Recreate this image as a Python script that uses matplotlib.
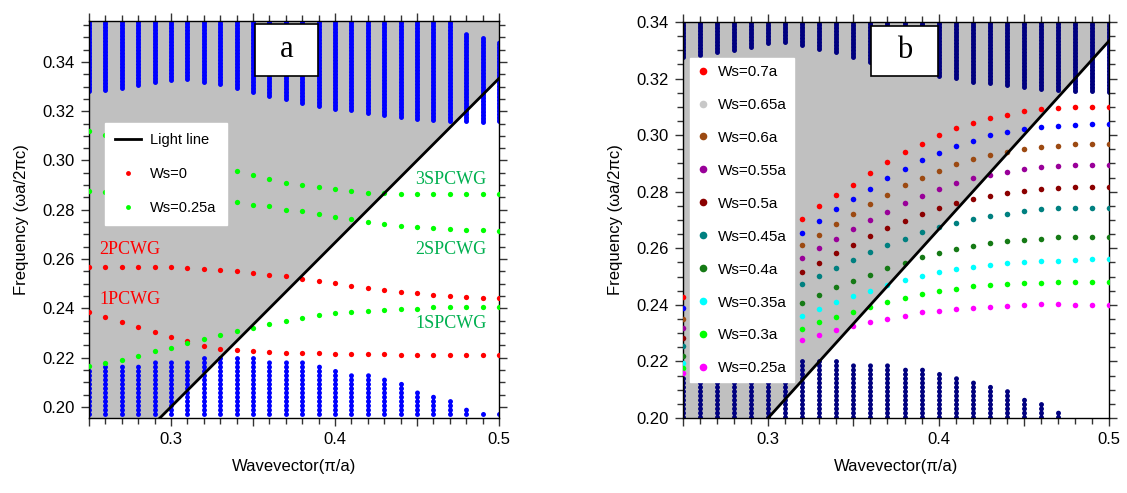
import matplotlib
matplotlib.use('Agg')
import matplotlib.pyplot as plt
import numpy as np
from matplotlib.lines import Line2D
from matplotlib.patches import Rectangle
from matplotlib.ticker import MultipleLocator, FuncFormatter, FormatStrFormatter

plt.rcParams['font.family'] = ['Liberation Sans', 'DejaVu Sans']

nan = np.nan
k = [0.25, 0.26, 0.27, 0.28, 0.29, 0.30, 0.31, 0.32, 0.33, 0.34, 0.35, 0.36, 0.37,
     0.38, 0.39, 0.40, 0.41, 0.42, 0.43, 0.44, 0.45, 0.46, 0.47, 0.48, 0.49, 0.50]

light_k = [0.25, 0.50]
light_f = [0.1667, 0.3333]

# ---- panel a: photonic bands (blue) ----
a_up_lo = [0.3282, 0.3285, 0.3295, 0.3306, 0.3317, 0.3325, 0.3329, 0.3319, 0.3309, 0.3293, 0.3278, 0.3260, 0.3249,
           0.3234, 0.3222, 0.3210, 0.3203, 0.3192, 0.3183, 0.3176, 0.3169, 0.3165, 0.3160, 0.3160, 0.3156, 0.3160]
a_up_hi = [0.357, 0.357, 0.357, 0.357, 0.357, 0.357, 0.357, 0.357, 0.357, 0.357, 0.357, 0.357, 0.357,
           0.357, 0.357, 0.357, 0.357, 0.357, 0.357, 0.357, 0.357, 0.357, 0.357, 0.3520, 0.3498, 0.3479]
a_lo_hi = [0.2157, 0.2164, 0.2175, 0.2179, 0.2186, 0.2193, 0.2196, 0.2197, 0.2200, 0.2203, 0.2199, 0.2196, 0.2192,
           0.2183, 0.2172, 0.2161, 0.2145, 0.2131, 0.2116, 0.2097, 0.2073, 0.2051, 0.2026, 0.2004, 0.1988, 0.1979]
a_lo_lo = 0.197

# Ws=0 (red)
a_red_2 = [0.2566, 0.2569, 0.2569, 0.2569, 0.2569, 0.2567, 0.2564, 0.2560, 0.2556, 0.2552, 0.2545, 0.2537, 0.2530,
           0.2519, 0.2511, 0.2503, 0.2492, 0.2484, 0.2476, 0.2468, 0.2461, 0.2453, 0.2449, 0.2446, 0.2443, 0.2442]
a_red_1 = [0.2387, 0.2364, 0.2346, 0.2323, 0.2304, 0.2284, 0.2266, 0.2249, 0.2237, 0.2230, 0.2226, 0.2222, 0.2220,
           0.2217, 0.2217, 0.2215, 0.2214, 0.2214, 0.2214, 0.2211, 0.2211, 0.2211, 0.2211, 0.2211, 0.2211, 0.2211]
# Ws=0.25a (green)
a_grn_1 = [0.2166, 0.2177, 0.2192, 0.2207, 0.2228, 0.2241, 0.2259, 0.2277, 0.2290, 0.2308, 0.2322, 0.2337, 0.2349,
           0.2361, 0.2372, 0.2380, 0.2387, 0.2391, 0.2395, 0.2399, 0.2399, 0.2404, 0.2404, 0.2404, 0.2404, 0.2404]
a_grn_2 = [0.2876, 0.2872, nan, nan, nan, nan, nan, nan, 0.2838, 0.2830, 0.2820, 0.2814, 0.2800,
           0.2793, 0.2781, 0.2769, 0.2762, 0.2750, 0.2741, 0.2735, 0.2730, 0.2724, 0.2722, 0.2719, 0.2716, 0.2713]
a_grn_3 = [0.3120, 0.3102, nan, nan, nan, nan, nan, nan, 0.2971, 0.2956, 0.2941, 0.2926, 0.2910,
           0.2899, 0.2891, 0.2883, 0.2875, 0.2870, 0.2868, 0.2862, 0.2862, 0.2862, 0.2862, 0.2862, 0.2862, 0.2862]

# ---- panel b ----
b_up_lo = [0.3275, 0.3285, 0.3293, 0.3301, 0.3313, 0.3325, 0.3329, 0.3320, 0.3305, 0.3293, 0.3275, 0.3260, 0.3249,
           0.3234, 0.3220, 0.3210, 0.3201, 0.3188, 0.3183, 0.3176, 0.3170, 0.3164, 0.3158, 0.3156, 0.3156, 0.3154]
b_up_hi = 0.341
b_lo_hi = [0.2149, 0.2164, 0.2175, 0.2179, 0.2186, 0.2193, 0.2196, 0.2200, 0.2202, 0.2200, 0.2196, 0.2194, 0.2188,
           0.2182, 0.2173, 0.2162, 0.2146, 0.2132, 0.2113, 0.2094, 0.2074, 0.2051, 0.2028, nan, nan, nan]
b_lo_lo = 0.2003

hid = [nan] * 6
b_series = {
    'Ws=0.7a': [0.2429] + hid + [0.2703, 0.2748, 0.2788, 0.2825, 0.2867, 0.2904, 0.2940, 0.2970, 0.2999, 0.3025,
                                 0.3044, 0.3062, 0.3072, 0.3084, 0.3091, 0.3095, 0.3098, 0.3100, 0.3100],
    'Ws=0.65a': [0.2390] + hid + [0.2655, 0.2696, 0.2738, 0.2774, 0.2811, 0.2848, 0.2881, 0.2911, 0.2938, 0.2963,
                                  0.2980, 0.2999, 0.3010, 0.3021, 0.3029, 0.3032, 0.3037, 0.3040, 0.3040],
    'Ws=0.6a': [0.2351] + hid + [0.2612, 0.2648, 0.2686, 0.2722, 0.2755, 0.2789, 0.2823, 0.2848, 0.2874, 0.2897,
                                 0.2914, 0.2930, 0.2939, 0.2951, 0.2958, 0.2963, 0.2968, 0.2970, 0.2969],
    'Ws=0.55a': [0.2319] + hid + [0.2566, 0.2601, 0.2634, 0.2667, 0.2700, 0.2729, 0.2760, 0.2785, 0.2811, 0.2830,
                                  0.2847, 0.2859, 0.2871, 0.2880, 0.2888, 0.2892, 0.2893, 0.2896, 0.2896],
    'Ws=0.5a': [0.2284] + hid + [0.2516, 0.2549, 0.2582, 0.2612, 0.2644, 0.2672, 0.2697, 0.2722, 0.2741, 0.2759,
                                 0.2774, 0.2785, 0.2796, 0.2803, 0.2809, 0.2814, 0.2816, 0.2818, 0.2818],
    'Ws=0.45a': [0.2255] + hid + [0.2473, 0.2502, 0.2531, 0.2560, 0.2586, 0.2612, 0.2634, 0.2656, 0.2676, 0.2690,
                                  0.2705, 0.2714, 0.2722, 0.2731, 0.2738, 0.2741, 0.2742, 0.2743, 0.2743],
    'Ws=0.4a': [0.2220] + hid + [0.2408, 0.2435, 0.2462, 0.2485, 0.2507, 0.2531, 0.2549, 0.2568, 0.2582, 0.2596,
                                 0.2608, 0.2619, 0.2627, 0.2630, 0.2634, 0.2639, 0.2639, 0.2640, 0.2640],
    'Ws=0.35a': [0.2195] + hid + [0.2362, 0.2386, 0.2409, 0.2432, 0.2450, 0.2470, 0.2488, 0.2503, 0.2515, 0.2527,
                                  0.2535, 0.2541, 0.2549, 0.2553, 0.2556, 0.2556, 0.2560, 0.2562, 0.2562],
    'Ws=0.3a': [0.2177] + hid + [0.2316, 0.2339, 0.2357, 0.2375, 0.2393, 0.2409, 0.2423, 0.2439, 0.2449, 0.2456,
                                 0.2466, 0.2471, 0.2475, 0.2478, 0.2479, 0.2482, 0.2481, 0.2482, 0.2482],
    'Ws=0.25a': [0.2160] + hid + [0.2276, 0.2293, 0.2310, 0.2324, 0.2340, 0.2350, 0.2362, 0.2374, 0.2379, 0.2386,
                                  0.2390, 0.2393, 0.2397, 0.2398, 0.2402, 0.2402, 0.2400, 0.2400, 0.2400],
}
b_colors = ['#ff0000', '#0000ff', '#9c4a12', '#990099', '#8b0000', '#008080', '#157a15', '#00ffff', '#00ff00', '#ff00ff']
b_legend_colors = ['#ff0000', '#c8c8c8', '#9c4a12', '#990099', '#8b0000', '#008080', '#157a15', '#00ffff', '#00ff00', '#ff00ff']


def draw_band(ax, lo, hi, color, gap):
    lo = np.broadcast_to(np.asarray(lo, float), (len(k),))
    hi = np.broadcast_to(np.asarray(hi, float), (len(k),))
    for kk, a, b in zip(k, lo, hi):
        if np.isnan(a) or np.isnan(b):
            continue
        ax.plot([kk, kk], [a, b], color=color, lw=3.6, ls=(0, (0.01, gap)),
                dash_capstyle='round', solid_capstyle='round', zorder=2)


def style_axes(ax, ylim):
    ax.set_xlim(0.25, 0.50)
    ax.set_ylim(*ylim)
    ax.xaxis.set_major_locator(MultipleLocator(0.05))
    ax.xaxis.set_minor_locator(MultipleLocator(0.01))
    ax.xaxis.set_major_formatter(FuncFormatter(
        lambda v, p: f'{v:.1f}' if abs(v * 10 - round(v * 10)) < 1e-6 else ''))
    ax.yaxis.set_major_locator(MultipleLocator(0.02))
    ax.yaxis.set_minor_locator(MultipleLocator(0.005))
    ax.yaxis.set_major_formatter(FormatStrFormatter('%.2f'))
    ax.tick_params(which='both', direction='out', top=True, right=True, labelsize=12, color='#333333')
    ax.tick_params(which='major', length=6, width=1, pad=4)
    ax.tick_params(which='minor', length=4, width=1)
    ax.set_xlabel('Wavevector(\u03c0/a)', fontsize=12, labelpad=9)
    ax.set_ylabel('Frequency (\u03c9a/2\u03c0c)', fontsize=12, labelpad=10)
    for s in ax.spines.values():
        s.set_linewidth(1.0)
    top = ylim[1]
    ax.fill_between(light_k, light_f, top, color='#c0c0c0', zorder=0, lw=0)
    ax.plot(light_k, light_f, color='black', lw=2, zorder=4)


def letter_box(ax, x0, y0, w, h, letter):
    ax.add_patch(Rectangle((x0, y0), w, h, transform=ax.transAxes, facecolor='white',
                           edgecolor='black', lw=1.2, zorder=7, clip_on=False))
    ax.text(x0 + w / 2, y0 + h / 2, letter, transform=ax.transAxes, ha='center', va='center',
            fontsize=22, family='Liberation Serif', zorder=8)


fig = plt.figure(figsize=(11.27, 4.93), dpi=100)
ax_a = fig.add_axes([89 / 1127, 1 - 418 / 493, 410 / 1127, 397 / 493])
ax_b = fig.add_axes([683 / 1127, 1 - 418 / 493, 426 / 1127, 396 / 493])

# ---------- panel a ----------
style_axes(ax_a, (0.1955, 0.3566))
draw_band(ax_a, a_up_lo, a_up_hi, '#0000ff', 0.55)
draw_band(ax_a, a_lo_lo, a_lo_hi, '#0000ff', 0.85)
for ys in (a_red_2, a_red_1):
    ax_a.plot(k, ys, ls='', marker='o', ms=3.8, color='#ff0000', mec='none', zorder=3)
for ys in (a_grn_1, a_grn_2, a_grn_3):
    ax_a.plot(k, ys, ls='', marker='o', ms=3.8, color='#00ff00', mec='none', zorder=3)

txt_kw = dict(fontsize=13, family='Liberation Serif', va='center', zorder=6)
ax_a.text(0.2565, 0.2637, '2PCWG', color='#ff0000', ha='left', **txt_kw)
ax_a.text(0.2565, 0.2435, '1PCWG', color='#ff0000', ha='left', **txt_kw)
ax_a.text(0.4925, 0.2921, '3SPCWG', color='#00b050', ha='right', **txt_kw)
ax_a.text(0.4925, 0.2637, '2SPCWG', color='#00b050', ha='right', **txt_kw)
ax_a.text(0.4925, 0.2340, '1SPCWG', color='#00b050', ha='right', **txt_kw)

h_a = [Line2D([], [], color='black', lw=2),
       Line2D([], [], ls='', marker='o', ms=3.5, color='#ff0000', mec='none'),
       Line2D([], [], ls='', marker='o', ms=3.5, color='#00ff00', mec='none')]
leg_a = ax_a.legend(h_a, ['Light line', 'Ws=0', 'Ws=0.25a'], loc='upper left',
                    bbox_to_anchor=(0.039, 0.743), fontsize=10.5, frameon=True, fancybox=False,
                    facecolor='white', edgecolor='white', framealpha=1, labelspacing=1.35,
                    borderpad=0.7, handlelength=1.8, handletextpad=0.6, borderaxespad=0)
leg_a.set_zorder(5)
letter_box(ax_a, 0.405, 0.862, 0.154, 0.131, 'a')

# ---------- panel b ----------
style_axes(ax_b, (0.20, 0.34))
draw_band(ax_b, b_up_lo, b_up_hi, '#00007f', 0.55)
draw_band(ax_b, b_lo_lo, b_lo_hi, '#00007f', 0.85)
for (lab, ys), c in zip(b_series.items(), b_colors):
    ax_b.plot(k, ys, ls='', marker='o', ms=4.0, color=c, mec='none', zorder=3)

h_b = [Line2D([], [], ls='', marker='o', ms=5.5, color=c, mec='none') for c in b_legend_colors]
leg_b = ax_b.legend(h_b, list(b_series.keys()), loc='upper left',
                    bbox_to_anchor=(0.016, 0.909), fontsize=11, frameon=True, fancybox=False,
                    facecolor='white', edgecolor='white', framealpha=1, labelspacing=1.24,
                    borderpad=0.45, handlelength=0.8, handletextpad=0.6, borderaxespad=0)
leg_b.set_zorder(5)
letter_box(ax_b, 0.441, 0.864, 0.157, 0.126, 'b')

fig.savefig('out.png', dpi=100)
